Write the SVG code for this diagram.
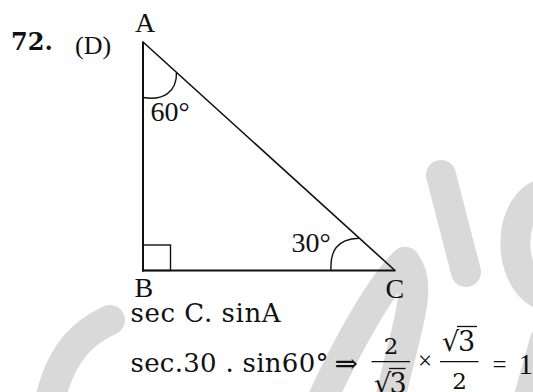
<svg xmlns="http://www.w3.org/2000/svg" width="533" height="392" viewBox="0 0 533 392">
<style>
.wm{fill:none;stroke:#d9d9d9;stroke-width:30;stroke-linecap:round}
.edge{fill:none;stroke:#111;stroke-width:2}
.hyp{fill:none;stroke:#111;stroke-width:1.6}
.thin{fill:none;stroke:#111;stroke-width:1.4}
.bar{stroke:#111;stroke-width:1.3}
.lbl{font-family:"Liberation Serif",serif;font-size:28px;fill:#111}
.eq{font-family:"DejaVu Serif",serif;font-size:26px;fill:#111}
.dig{font-family:"DejaVu Serif",serif;font-size:23px;fill:#111}
.big{font-family:"DejaVu Serif",serif;font-size:27px;fill:#111}
.op{font-family:"Liberation Serif",serif;font-size:25px;fill:#111}
.rad{font-family:"DejaVu Serif",serif;font-size:27px;fill:#111}
</style>
<rect width="533" height="392" fill="#ffffff"/>
<g id="watermark">
<path class="wm" d="M110,320 C88,330 62,348 50,400"/>
<path class="wm" d="M322,400 C345,350 380,285 405,262"/>
<path class="wm" d="M405,262 C425,285 405,330 390,400"/>
<path class="wm" d="M441,175 L466,272"/>
<path class="wm" d="M548,192 C505,200 505,282 545,296"/>
<path class="wm" d="M545,340 L528,400"/>
</g>
<g id="question">
<text x="11" y="50" style="font-family:'DejaVu Serif',serif;font-weight:bold;font-size:24px;fill:#111">72.</text>
<text class="lbl" x="75" y="54" style="font-size:26px">(D)</text>
</g>
<g id="triangle">
<line class="edge" x1="143" y1="41.5" x2="143" y2="271.5"/>
<line class="edge" x1="142" y1="270.5" x2="395.5" y2="270.5"/>
<line class="hyp" x1="143" y1="42" x2="395" y2="270.5"/>
<rect class="thin" x="143" y="245" width="27.5" height="25.5"/>
<path class="thin" d="M143,97.5 C163,101 177,92 176.5,72.5"/>
<path class="thin" d="M331,270.5 C330,252 336,239 359,238.2"/>
</g>
<g id="labels">
<text class="lbl" x="145" y="32" text-anchor="middle">A</text>
<text class="lbl" x="134.5" y="296.5">B</text>
<text class="lbl" x="385.5" y="297.5">C</text>
<text class="lbl" x="150.5" y="121">60°</text>
<text class="lbl" x="291.5" y="252">30°</text>
</g>
<g id="solution">
<text class="eq" x="130.5" y="322" textLength="150">sec C. sinA</text>
<text class="eq" x="130.5" y="372" textLength="198">sec.30 . sin60°</text>
<text class="eq" x="334.5" y="373" style="font-size:28px">⇒</text>
<text class="dig" x="391" y="353.5" text-anchor="middle">2</text>
<line class="bar" x1="371.5" y1="361.7" x2="410" y2="361.7"/>
<text class="rad" x="374" y="393">√</text>
<line class="bar" x1="389" y1="368.5" x2="405.5" y2="368.5"/>
<text class="big" x="398" y="393" text-anchor="middle">3</text>
<text class="op" x="425" y="369" text-anchor="middle">×</text>
<text class="rad" x="442" y="351">√</text>
<line class="bar" x1="457" y1="326.5" x2="477" y2="326.5"/>
<text class="big" x="466.5" y="350.5" text-anchor="middle">3</text>
<line class="bar" x1="440" y1="361.7" x2="478.5" y2="361.7"/>
<text class="dig" x="459.5" y="388.5" text-anchor="middle">2</text>
<text class="op" x="492.5" y="373">=</text>
<text class="lbl" x="518.5" y="374" style="font-size:29px">1</text>
</g>
</svg>
